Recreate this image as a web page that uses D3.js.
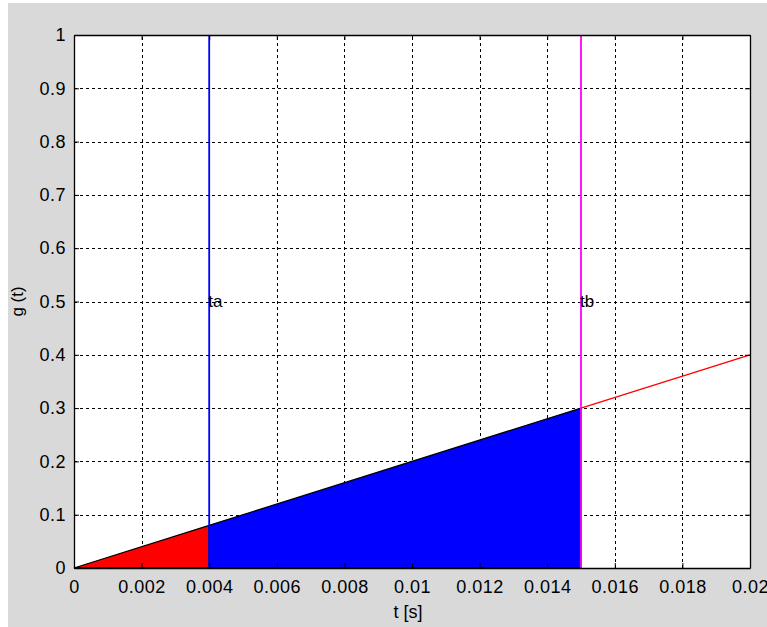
<!DOCTYPE html>
<html>
<head>
<meta charset="utf-8">
<script src="https://cdn.jsdelivr.net/npm/d3@7"></script>
<style>
  body { margin: 0; background: #ffffff; }
  text { font-family: "Liberation Sans", Arial, sans-serif; }
</style>
</head>
<body>
<svg id="chart" width="767" height="627"></svg>
<script>
// data
var tLine = [0, 0.004, 0.015, 0.02];
var gLine = [0, 0.08, 0.3, 0.4];
var redArea = [[0, 0], [0.004, 0.08]];      // t, g
var blueArea = [[0.004, 0.08], [0.015, 0.3]];
var markers = [
    { t: 0.004, label: "ta", color: "#0000ff" },
    { t: 0.015, label: "tb", color: "#ff00ff" }
];
var xTicks = [0, 0.002, 0.004, 0.006, 0.008, 0.01, 0.012, 0.014, 0.016, 0.018, 0.02];
var yTicks = [0, 0.1, 0.2, 0.3, 0.4, 0.5, 0.6, 0.7, 0.8, 0.9, 1];

var fontFam = "'Liberation Sans', Arial, sans-serif";
var fontSize = 18;

var svg = d3.select("#chart");

// figure background
svg.append("rect")
    .attr("x", 8).attr("y", 3)
    .attr("width", 759).attr("height", 624)
    .attr("fill", "#d9d9d9");

// axes box (names avoid window.top)
var axLeft = 74, axTop = 35, axRight = 750, axBottom = 568;

var x = d3.scaleLinear().domain([0, 0.02]).range([axLeft, axRight]);
var y = d3.scaleLinear().domain([0, 1]).range([axBottom, axTop]);

svg.append("rect")
    .attr("x", axLeft).attr("y", axTop)
    .attr("width", axRight - axLeft).attr("height", axBottom - axTop)
    .attr("fill", "#ffffff");

// grid lines
var grid = svg.append("g")
    .attr("stroke", "#000")
    .attr("stroke-width", 1)
    .attr("stroke-dasharray", "3,3")
    .attr("shape-rendering", "crispEdges");

grid.selectAll(".gx")
    .data(xTicks.slice(1, -1))
    .enter().append("line")
    .attr("x1", function(d) { return Math.round(x(d)) + 0.5; })
    .attr("x2", function(d) { return Math.round(x(d)) + 0.5; })
    .attr("y1", axBottom).attr("y2", axTop);

grid.selectAll(".gy")
    .data(yTicks.slice(1, -1))
    .enter().append("line")
    .attr("y1", function(d) { return Math.round(y(d)) + 0.5; })
    .attr("y2", function(d) { return Math.round(y(d)) + 0.5; })
    .attr("x1", axLeft).attr("x2", axRight);

// filled areas under g(t)
var area = d3.area()
    .x(function(d) { return x(d[0]); })
    .y0(y(0))
    .y1(function(d) { return y(d[1]); });

svg.append("path")
    .datum(redArea)
    .attr("d", area)
    .attr("fill", "#ff0000")
    .attr("stroke", "#000")
    .attr("stroke-width", 1.3);

svg.append("path")
    .datum(blueArea)
    .attr("d", area)
    .attr("fill", "#0000ff")
    .attr("stroke", "#000")
    .attr("stroke-width", 1.3);

// g(t) line, visible beyond tb
svg.append("path")
    .datum(gLine.slice(2))
    .attr("d", d3.line()
        .x(function(d, i) { return x(tLine[i + 2]); })
        .y(function(d) { return y(d); }))
    .attr("fill", "none")
    .attr("stroke", "#ff0000")
    .attr("stroke-width", 1.3);

// vertical markers ta / tb
markers.forEach(function(m) {
    svg.append("line")
        .attr("x1", x(m.t))
        .attr("x2", x(m.t))
        .attr("y1", axTop).attr("y2", axBottom)
        .attr("stroke", m.color)
        .attr("stroke-width", 1.8);
    svg.append("text")
        .attr("x", x(m.t) - 1)
        .attr("y", y(0.5))
        .attr("dy", "0.35em")
        .attr("font-size", 17)
        .attr("fill", "#000")
        .text(m.label);
});

// axes
var xAxis = d3.axisBottom(x).tickValues(xTicks)
    .tickFormat(function(d) { return String(+d.toFixed(3)); })
    .tickSizeInner(-5).tickSizeOuter(0).tickPadding(12);
var yAxis = d3.axisLeft(y).tickValues(yTicks)
    .tickFormat(function(d) { return String(+d.toFixed(1)); })
    .tickSizeInner(-5).tickSizeOuter(0).tickPadding(8);

svg.append("g").attr("transform", "translate(0," + axBottom + ")").call(xAxis);
svg.append("g").attr("transform", "translate(" + axLeft + ",0)").call(yAxis);
svg.append("g").attr("transform", "translate(0," + axTop + ")")
    .call(d3.axisTop(x).tickValues(xTicks).tickFormat("").tickSizeInner(-5).tickSizeOuter(0));
svg.append("g").attr("transform", "translate(" + axRight + ",0)")
    .call(d3.axisRight(y).tickValues(yTicks).tickFormat("").tickSizeInner(-5).tickSizeOuter(0));

svg.selectAll(".domain").attr("stroke", "#000").attr("stroke-width", 1.3);
svg.selectAll(".tick line").attr("stroke", "#000");
svg.selectAll(".tick text").attr("font-size", fontSize).attr("fill", "#000")
    .attr("letter-spacing", 0.5)
    .attr("font-family", fontFam);

// axis titles
svg.append("text")
    .attr("x", 408)
    .attr("y", 618)
    .attr("text-anchor", "middle")
    .attr("font-size", fontSize)
    .text("t [s]");

svg.append("text")
    .attr("transform", "translate(23," + ((axTop + axBottom) / 2) + ") rotate(-90)")
    .attr("text-anchor", "middle")
    .attr("font-size", 17)
    .text("g (t)");
</script>
</body>
</html>
